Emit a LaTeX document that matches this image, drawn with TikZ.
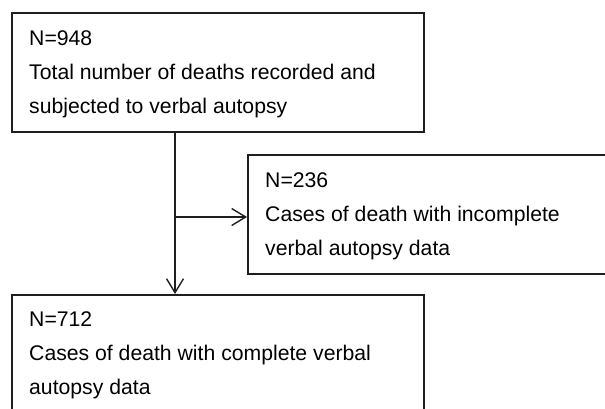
\documentclass[tikz,border=0pt]{standalone}
\usepackage{fontspec}
\setmainfont{Liberation Sans}
\usetikzlibrary{arrows.meta}
\begin{document}
\begin{tikzpicture}[x=1pt,y=-1pt,
  box/.style={draw=black!88, line width=1.7pt, inner sep=0pt, anchor=north west},
  txt/.style={anchor=base west, inner sep=0pt, text=black, font=\fontsize{21.2}{34}\selectfont},
  conn/.style={line width=1.4pt, draw=black!88, -{Straight Barb[length=14pt,width=17pt,line width=1.4pt]}}]
\useasboundingbox (0,0) rectangle (605,408);
\clip (0,0) rectangle (605,408);
\node[box, minimum width=412pt, minimum height=119pt] (b1) at (11,12) {};
\node[box, minimum width=400pt, minimum height=119pt] (b2) at (247,154) {};
\node[box, minimum width=412pt, minimum height=140pt] (b3) at (11,294) {};
\node[txt] (t1a) at (29,45) {N=948};
\node[txt] (t1b) at (29,79) {Total number of deaths recorded and};
\node[txt] (t1c) at (29,113) {subjected to verbal autopsy};
\node[txt] (t2a) at (265,187) {N=236};
\node[txt] (t2b) at (265,221) {Cases of death with incomplete};
\node[txt] (t2c) at (265,255) {verbal autopsy data};
\node[txt] (t3a) at (29,326) {N=712};
\node[txt] (t3b) at (29,360) {Cases of death with complete verbal};
\node[txt] (t3c) at (29,394) {autopsy data};
\coordinate (j) at (175,217);
\draw[conn] (b1.south -| j) -- (b3.north -| j);
\draw[conn] (j) -- (j -| b2.west);
\end{tikzpicture}
\end{document}
